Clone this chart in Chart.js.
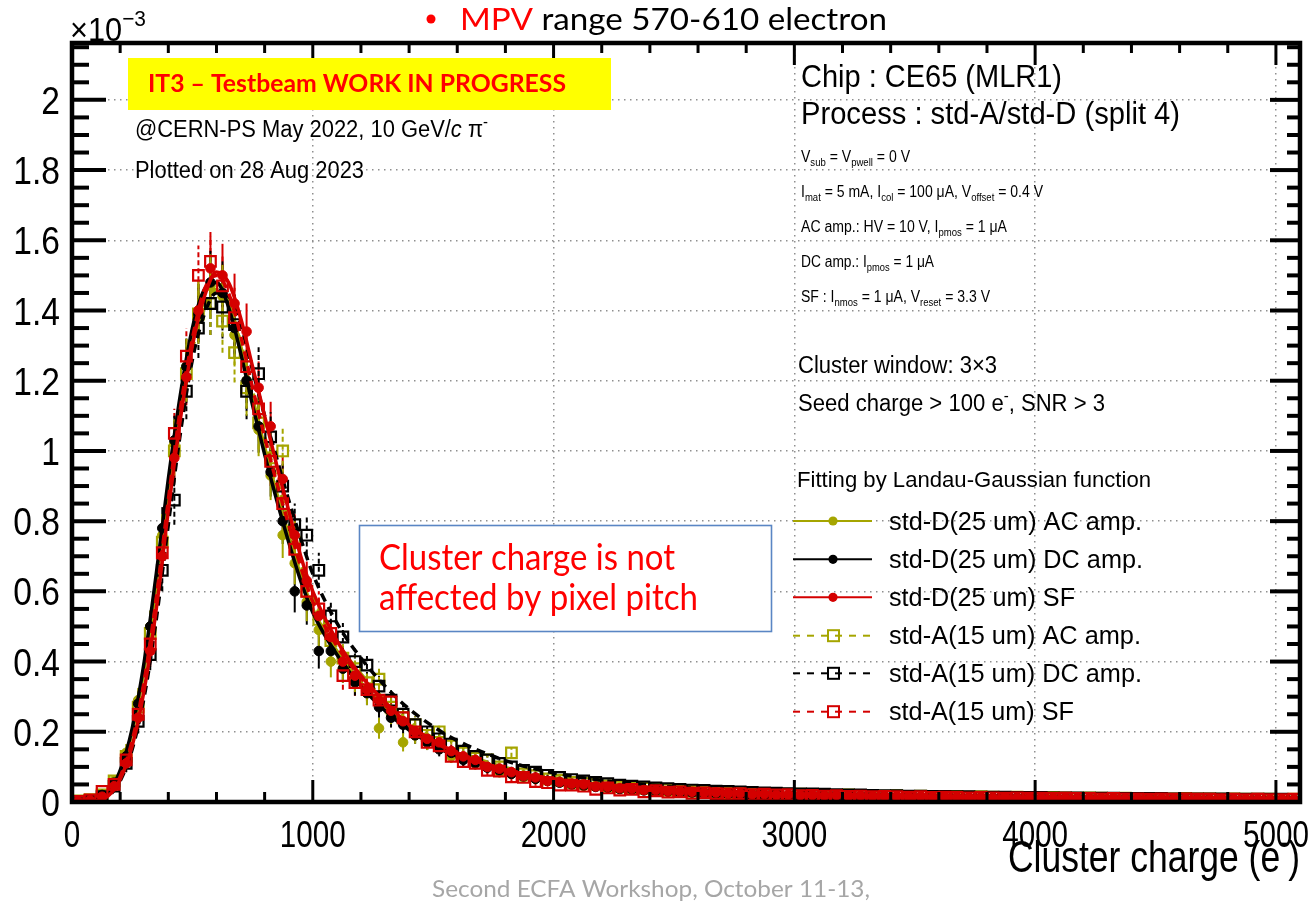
<!DOCTYPE html>
<html><head><meta charset="utf-8">
<script src="https://cdn.jsdelivr.net/npm/chart.js@4.4.1/dist/chart.umd.min.js"></script>
<style>html,body{margin:0;padding:0;background:#fff;overflow:hidden}canvas{display:block}</style>
</head><body>
<canvas id="c" width="1316" height="905"></canvas>
<script>
// ---------------- DATA ----------------
const charge = [25,75,125,175,225,275,325,375,425,475,
 525,575,625,675,725,775,825,875,925,975,
 1025,1075,1125,1175,1225,1275,1325,1375,1425,1475,
 1525,1575,1625,1675,1725,1775,1825,1875,1925,1975,
 2025,2075,2125,2175,2225,2275,2325,2375,2425,2475,
 2525,2575,2625,2675,2725,2775,2825,2875,2925,2975,
 3025,3075,3125,3175,3225,3275,3325,3375,3425,3475,
 3525,3575,3625,3675,3725,3775,3825,3875,3925,3975,
 4025,4075,4125,4175,4225,4275,4325,4375,4425,4475,
 4525,4575,4625,4675,4725,4775,4825,4875,4925,4975,
 5025,5075];
// std-D(25 um) AC amp.
const dAC = [0.003,0.008,0.022,0.06,0.14,0.29,0.50,0.76,1.02,1.24,
 1.40,1.47,1.44,1.33,1.20,1.06,0.93,0.76,0.68,0.57,
 0.49,0.40,0.38,0.35,0.31,0.21,0.25,0.17,0.19,0.17,
 0.16,0.13,0.125,0.11,0.10,0.085,0.08,0.07,0.066,0.06,
 0.058,0.05,0.046,0.047,0.04,0.041,0.035,0.036,0.034,0.029,
 0.031,0.027,0.028,0.024,0.026,0.022,0.024,0.02,0.022,0.019,
 0.021,0.018,0.02,0.017,0.019,0.016,0.018,0.016,0.015,0.017,
 0.014,0.016,0.013,0.015,0.013,0.014,0.012,0.014,0.012,0.013,
 0.011,0.013,0.011,0.012,0.01,0.012,0.01,0.011,0.009,0.011,
 0.009,0.01,0.009,0.01,0.008,0.01,0.008,0.009,0.008,0.009,
 0.008,0.008];
// std-D(25 um) DC amp.
const dDC = [0.002,0.006,0.02,0.055,0.13,0.28,0.50,0.78,1.03,1.24,
 1.39,1.48,1.45,1.35,1.20,1.07,0.94,0.80,0.60,0.56,
 0.43,0.43,0.38,0.34,0.31,0.27,0.24,0.22,0.19,0.17,
 0.15,0.14,0.12,0.11,0.098,0.09,0.08,0.073,0.066,0.06,
 0.055,0.05,0.047,0.043,0.041,0.037,0.036,0.033,0.032,0.03,
 0.029,0.027,0.026,0.025,0.023,0.023,0.021,0.021,0.02,0.019,
 0.019,0.018,0.017,0.018,0.016,0.017,0.015,0.016,0.014,0.015,
 0.014,0.013,0.014,0.012,0.013,0.012,0.012,0.011,0.012,0.011,
 0.011,0.01,0.011,0.01,0.01,0.009,0.01,0.009,0.009,0.009,
 0.008,0.009,0.008,0.008,0.008,0.007,0.008,0.007,0.007,0.007,
 0.007,0.006];
// std-D(25 um) SF
const dSF = [0.002,0.005,0.015,0.045,0.11,0.24,0.43,0.70,0.98,1.21,
 1.40,1.52,1.50,1.42,1.34,1.18,1.07,0.92,0.76,0.63,
 0.53,0.47,0.40,0.36,0.32,0.29,0.26,0.23,0.20,0.18,
 0.17,0.145,0.13,0.12,0.10,0.095,0.085,0.074,0.07,0.06,
 0.057,0.052,0.05,0.044,0.043,0.039,0.038,0.034,0.034,0.031,
 0.03,0.029,0.026,0.027,0.024,0.025,0.022,0.023,0.02,0.021,
 0.019,0.02,0.018,0.019,0.017,0.018,0.016,0.017,0.016,0.015,
 0.016,0.014,0.015,0.014,0.013,0.014,0.012,0.013,0.012,0.012,
 0.012,0.011,0.012,0.01,0.011,0.01,0.011,0.009,0.01,0.009,
 0.01,0.008,0.009,0.009,0.008,0.009,0.008,0.008,0.008,0.007,
 0.008,0.007];
// std-A(15 um) AC amp.
const aAC = [0.003,0.007,0.02,0.06,0.13,0.27,0.48,0.74,1.00,1.22,
 1.39,1.42,1.37,1.28,1.18,1.08,0.98,1.00,0.74,0.60,
 0.52,0.46,0.41,0.38,0.34,0.35,0.27,0.24,0.22,0.19,
 0.20,0.16,0.14,0.125,0.12,0.10,0.14,0.08,0.075,0.066,
 0.062,0.056,0.053,0.05,0.046,0.043,0.04,0.039,0.036,0.035,
 0.032,0.031,0.03,0.028,0.027,0.026,0.025,0.024,0.023,0.022,
 0.022,0.02,0.021,0.019,0.02,0.018,0.019,0.017,0.018,0.016,
 0.017,0.016,0.015,0.016,0.014,0.015,0.014,0.013,0.014,0.013,
 0.012,0.013,0.012,0.011,0.012,0.011,0.01,0.011,0.01,0.01,
 0.01,0.009,0.01,0.009,0.009,0.008,0.009,0.008,0.008,0.008,
 0.007,0.008];
// std-A(15 um) DC amp.
const aDC = [0.001,0.004,0.015,0.045,0.11,0.23,0.42,0.66,0.86,1.17,
 1.35,1.42,1.41,1.36,1.17,1.22,1.04,0.90,0.79,0.76,
 0.66,0.53,0.47,0.40,0.39,0.33,0.29,0.25,0.22,0.20,
 0.18,0.165,0.145,0.13,0.12,0.11,0.10,0.09,0.085,0.076,
 0.07,0.064,0.06,0.056,0.052,0.048,0.045,0.043,0.04,0.038,
 0.036,0.034,0.033,0.031,0.03,0.029,0.027,0.026,0.025,0.024,
 0.023,0.023,0.022,0.021,0.02,0.02,0.019,0.018,0.018,0.017,
 0.017,0.016,0.016,0.015,0.015,0.014,0.014,0.014,0.013,0.013,
 0.013,0.012,0.012,0.012,0.011,0.011,0.011,0.01,0.01,0.01,
 0.01,0.009,0.009,0.009,0.009,0.009,0.008,0.008,0.008,0.008,
 0.008,0.007];
// std-A(15 um) SF
const aSF = [0.002,0.006,0.03,0.05,0.12,0.25,0.45,0.71,1.05,1.27,
 1.50,1.54,1.47,1.38,1.24,1.12,0.97,0.85,0.72,0.60,
 0.55,0.48,0.36,0.34,0.32,0.29,0.285,0.24,0.20,0.17,
 0.16,0.13,0.115,0.11,0.09,0.088,0.072,0.07,0.058,0.055,
 0.048,0.048,0.045,0.036,0.04,0.034,0.036,0.029,0.032,0.028,
 0.029,0.025,0.026,0.024,0.023,0.024,0.021,0.022,0.02,0.021,
 0.018,0.019,0.017,0.018,0.016,0.017,0.015,0.016,0.015,0.014,
 0.015,0.013,0.014,0.013,0.012,0.013,0.012,0.011,0.012,0.011,
 0.011,0.01,0.011,0.01,0.01,0.009,0.01,0.009,0.009,0.008,
 0.009,0.008,0.009,0.008,0.008,0.007,0.008,0.007,0.008,0.007,
 0.007,0.008];
// half-length of the statistical error bars per bin (first 40 bins; smaller beyond)
const binErr = [0,0.003,0.008,0.015,0.025,0.035,0.045,0.06,0.07,0.08,
 0.085,0.09,0.09,0.085,0.08,0.075,0.07,0.065,0.06,0.055,
 0.05,0.045,0.04,0.037,0.034,0.03,0.028,0.026,0.024,0.022,
 0.02,0.019,0.018,0.017,0.016,0.015,0.014,0.013,0.012,0.011];

// Landau-Gaussian fit curves
const fitX = [50,100,150,200,250,300,350,400,450,500,550,600,650,700,750,800,850,900,950,1000,
 1100,1200,1300,1400,1500,1600,1800,2000,2200,2500,2800,3200,3600,4000,4500,5100];
const fitDAC = [0.001,0.006,0.025,0.085,0.2,0.38,0.62,0.9,1.14,1.33,1.45,1.48,1.42,1.3,1.15,1.01,0.88,0.76,0.645,0.55,
 0.43,0.34,0.27,0.21,0.165,0.132,0.088,0.062,0.047,0.033,0.025,0.019,0.015,0.012,0.0095,0.0075];
const fitDDC = [0.001,0.006,0.026,0.09,0.21,0.4,0.65,0.92,1.16,1.35,1.46,1.48,1.41,1.28,1.13,0.99,0.86,0.74,0.63,0.54,
 0.42,0.33,0.26,0.205,0.162,0.13,0.086,0.061,0.046,0.032,0.024,0.018,0.014,0.011,0.009,0.007];
const fitDSF = [0.001,0.004,0.017,0.065,0.16,0.32,0.55,0.83,1.09,1.3,1.44,1.51,1.48,1.38,1.24,1.1,0.96,0.83,0.7,0.6,
 0.46,0.36,0.285,0.22,0.175,0.14,0.092,0.065,0.049,0.034,0.026,0.019,0.015,0.012,0.0095,0.0075];
const fitAAC = [0.001,0.005,0.021,0.078,0.185,0.36,0.6,0.87,1.11,1.29,1.41,1.46,1.42,1.31,1.17,1.04,0.92,0.8,0.68,0.58,
 0.455,0.365,0.29,0.228,0.182,0.146,0.098,0.07,0.053,0.037,0.028,0.021,0.016,0.013,0.01,0.008];
const fitADC = [0.0,0.004,0.016,0.06,0.15,0.3,0.52,0.79,1.05,1.26,1.39,1.45,1.44,1.36,1.23,1.1,0.98,0.86,0.75,0.65,
 0.51,0.41,0.33,0.265,0.215,0.175,0.118,0.083,0.062,0.043,0.032,0.024,0.018,0.014,0.011,0.0085];
const fitASF = [0.001,0.005,0.02,0.072,0.175,0.345,0.58,0.86,1.12,1.32,1.46,1.5,1.45,1.33,1.18,1.04,0.91,0.79,0.67,0.57,
 0.445,0.355,0.28,0.22,0.173,0.138,0.092,0.066,0.05,0.034,0.026,0.019,0.015,0.012,0.0095,0.0075];

const xTicks = [0,1000,2000,3000,4000,5000];
const xTickLabels = ['0','1000','2000','3000','4000','5000'];
const yTicks = [0,0.2,0.4,0.6,0.8,1.0,1.2,1.4,1.6,1.8,2.0];
const yTickLabels = ['0','0.2','0.4','0.6','0.8','1','1.2','1.4','1.6','1.8','2'];
const seriesNames = ['std-D(25 um) AC amp.','std-D(25 um) DC amp.','std-D(25 um) SF',
 'std-A(15 um) AC amp.','std-A(15 um) DC amp.','std-A(15 um) SF'];

// ---------------- STYLE ----------------
const OLIVE = '#a5a500', BLACK = '#000000', RED = '#d40000';
const SANS = "'Liberation Sans',Arial,sans-serif";
const SLIDE = "Lato,'Open Sans',sans-serif";

const pts = (xs, ys) => xs.map((x, i) => ({x, y: ys[i]}));
const pointSet = (label, ys, color, square) => ({
  label, data: pts(charge, ys), showLine: false, isHist: true, dashedErr: square,
  pointStyle: square ? 'rect' : 'circle',
  pointRadius: square ? 7.5 : 4.8,
  pointBackgroundColor: square ? 'rgba(0,0,0,0)' : color,
  pointBorderColor: color, pointBorderWidth: square ? 2.2 : 1
});
const fitSet = (label, ys, color, dashed) => ({
  label, data: pts(fitX, ys), showLine: true, pointRadius: 0,
  borderColor: color, borderWidth: 3.5, borderDash: dashed ? [9, 6] : [],
  cubicInterpolationMode: 'monotone', fill: false
});

// ---------------- TEXT HELPER ----------------
function rich(ctx, x, y, segs, size, family, color, targetW, weight, align) {
  ctx.save();
  const parts = segs.map(s => {
    const o = typeof s === 'string' ? {t: s} : s;
    const m = o.m || 0;
    const sz = (m === 1 || m === 2) ? size * 0.68 : size;
    const font = (m === 3 ? 'italic ' : '') + (weight || 'normal') + ' ' + sz + 'px ' + family;
    ctx.font = font;
    return {t: o.t, m, font, c: o.c || color, w: ctx.measureText(o.t).width};
  });
  const total = parts.reduce((a, p) => a + p.w, 0);
  const sx = targetW ? (targetW < 0 ? -targetW : targetW / total) : 1;
  const realW = total * sx;
  const x0 = align === 'center' ? x - realW / 2 : align === 'right' ? x - realW : x;
  ctx.translate(x0, y); ctx.scale(sx, 1);
  ctx.textBaseline = 'alphabetic'; ctx.textAlign = 'left';
  let cx = 0;
  for (const p of parts) {
    ctx.font = p.font; ctx.fillStyle = p.c;
    const dy = p.m === 1 ? size * 0.28 : p.m === 2 ? -size * 0.45 : 0;
    ctx.fillText(p.t, cx, dy);
    cx += p.w;
  }
  ctx.restore();
}

// ---------------- PLUGINS ----------------
const errPlugin = {
  id: 'errbars',
  beforeDatasetsDraw(chart) {
    const {ctx, scales: {y}} = chart;
    ctx.save();
    chart.data.datasets.forEach((ds, di) => {
      if (!ds.isHist) return;
      const meta = chart.getDatasetMeta(di);
      ctx.strokeStyle = ds.pointBorderColor; ctx.lineWidth = 2;
      ctx.setLineDash(ds.dashedErr ? [5, 3] : []);
      meta.data.forEach((el, i) => {
        const e = i < binErr.length ? binErr[i] : 0.004;
        const v = ds.data[i].y;
        ctx.beginPath();
        ctx.moveTo(el.x, y.getPixelForValue(v - e));
        ctx.lineTo(el.x, y.getPixelForValue(v + e));
        ctx.stroke();
      });
    });
    ctx.restore();
  }
};

const framePlugin = {
  id: 'frame',
  afterDatasetsDraw(chart) {
    const {ctx, chartArea: a, scales: {x, y}} = chart;
    ctx.save();
    ctx.strokeStyle = '#000'; ctx.lineCap = 'butt';
    const ln = (x1, y1, x2, y2) => { ctx.beginPath(); ctx.moveTo(x1, y1); ctx.lineTo(x2, y2); ctx.stroke(); };
    ctx.lineWidth = 3;
    for (let v = 0; v <= x.max + 1e-6; v += 200) {
      const px = x.getPixelForValue(v);
      const L = (v % 1000 === 0) ? 22 : 10;
      ln(px, a.bottom, px, a.bottom - L);
      ln(px, a.top, px, a.top + L);
    }
    ctx.lineWidth = 4;
    for (let k = 0; k * 0.05 <= y.max + 1e-9; k++) {
      const py = y.getPixelForValue(k * 0.05);
      const major = k % 4 === 0;
      ln(a.left, py, a.left + (major ? 34 : 17), py);
      ln(a.right, py, a.right - (major ? 30 : 13), py);
    }
    ctx.lineWidth = 4.5;
    ctx.strokeRect(a.left, a.top, a.right - a.left, a.bottom - a.top);
    ctx.restore();
    // tick labels, placed by the library's scales
    x.ticks.forEach((t, i) => {
      rich(ctx, x.getPixelForValue(t.value), 847, [xTickLabels[i]], 37, SANS, '#000', -0.8, 'normal', 'center');
    });
    y.ticks.forEach((t, i) => {
      rich(ctx, 60, y.getPixelForValue(t.value) + 14, [yTickLabels[i]], 39, SANS, '#000', -0.86, 'normal', 'right');
    });
  }
};

const textPlugin = {
  id: 'texts',
  afterDraw(chart) {
    const ctx = chart.ctx;
    rich(ctx, 70, 41, [{t: '×10'}, {t: '−3', m: 2}], 33, SANS, '#000', 76);
    ctx.save(); ctx.fillStyle = '#ff0000'; ctx.beginPath(); ctx.arc(431, 19, 4.5, 0, Math.PI * 2); ctx.fill(); ctx.restore();
    rich(ctx, 460, 30, [{t: 'MPV', c: '#ff0000'}, {t: ' range 570-610 electron'}], 31, SLIDE, '#000', 427);
    ctx.save(); ctx.fillStyle = '#ffff00'; ctx.fillRect(128, 58, 483, 52); ctx.restore();
    rich(ctx, 148, 92, ['IT3 – Testbeam WORK IN PROGRESS'], 25, SLIDE, '#ff0000', 418, 'bold');
    rich(ctx, 135, 137, ['@CERN-PS May 2022, 10 GeV/', {t: 'c', m: 3}, ' π', {t: '-', m: 2}], 23, SANS, '#000', 353);
    rich(ctx, 135, 178, ['Plotted on 28 Aug 2023'], 23, SANS, '#000', 229);
    rich(ctx, 801, 87, ['Chip : CE65 (MLR1)'], 31, SANS, '#000', 261);
    rich(ctx, 801, 124, ['Process : std-A/std-D (split 4)'], 31, SANS, '#000', 379);
    rich(ctx, 801, 162, ['V', {t: 'sub', m: 1}, ' = V', {t: 'pwell', m: 1}, ' = 0 V'], 16, SANS, '#000', 109);
    rich(ctx, 801, 197, ['I', {t: 'mat', m: 1}, ' = 5 mA, I', {t: 'col', m: 1}, ' = 100 μA, V', {t: 'offset', m: 1}, ' = 0.4 V'], 16, SANS, '#000', 242);
    rich(ctx, 801, 232, ['AC amp.: HV = 10 V, I', {t: 'pmos', m: 1}, ' = 1 μA'], 16, SANS, '#000', 206);
    rich(ctx, 801, 267, ['DC amp.: I', {t: 'pmos', m: 1}, ' = 1 μA'], 16, SANS, '#000', 133);
    rich(ctx, 801, 302, ['SF : I', {t: 'nmos', m: 1}, ' = 1 μA, V', {t: 'reset', m: 1}, ' = 3.3 V'], 16, SANS, '#000', 189);
    rich(ctx, 798, 373, ['Cluster window: 3×3'], 23, SANS, '#000', 199);
    rich(ctx, 798, 411, ['Seed charge > 100 e', {t: '-', m: 2}, ', SNR > 3'], 23, SANS, '#000', 307);
    rich(ctx, 797, 487, ['Fitting by Landau-Gaussian function'], 22, SANS, '#000', 354);
    const legColors = [OLIVE, BLACK, RED, OLIVE, BLACK, RED];
    const legY = [521, 559.3, 597.3, 635.7, 673.3, 711.7];
    const legW = [253, 254, 186, 252, 253, 185];
    for (let i = 0; i < 6; i++) {
      const cy = legY[i], col = legColors[i], sq = i >= 3;
      ctx.save();
      ctx.strokeStyle = col; ctx.lineWidth = 2;
      ctx.setLineDash(sq ? [7, 7] : []);
      ctx.beginPath(); ctx.moveTo(793, cy); ctx.lineTo(872, cy); ctx.stroke();
      ctx.setLineDash([]);
      if (sq) { ctx.lineWidth = 2; ctx.strokeRect(828, cy - 5.5, 11, 11); }
      else { ctx.fillStyle = col; ctx.beginPath(); ctx.arc(833, cy, 4.6, 0, Math.PI * 2); ctx.fill(); }
      ctx.restore();
      rich(ctx, 889, cy + 8.5, [seriesNames[i]], 25, SANS, '#000', legW[i]);
    }
    ctx.save(); ctx.fillStyle = '#fff'; ctx.fillRect(359, 525, 413, 107);
    ctx.strokeStyle = '#5a86c4'; ctx.lineWidth = 1.6; ctx.strokeRect(359.5, 525.5, 412, 106); ctx.restore();
    rich(ctx, 379, 570, ['Cluster charge is not'], 36, SLIDE, '#ff0000', 296);
    rich(ctx, 379, 610, ['affected by pixel pitch'], 36, SLIDE, '#ff0000', 319);
    rich(ctx, 432, 897, ['Second ECFA Workshop, October 11-13,'], 24, SLIDE, '#a6a6a6', 438);
    rich(ctx, 1008, 872, ['Cluster charge (e', {t: '-', m: 2}, ')'], 44, SANS, '#000', 292);
  }
};

// ---------------- CHART ----------------
new Chart(document.getElementById('c'), {
  type: 'scatter',
  data: {
    datasets: [
      fitSet('fit ' + seriesNames[2], fitDSF, RED, false),
      pointSet(seriesNames[2], dSF, RED, false),
      fitSet('fit ' + seriesNames[5], fitASF, RED, true),
      pointSet(seriesNames[5], aSF, RED, true),
      fitSet('fit ' + seriesNames[4], fitADC, BLACK, true),
      fitSet('fit ' + seriesNames[1], fitDDC, BLACK, false),
      pointSet(seriesNames[1], dDC, BLACK, false),
      pointSet(seriesNames[4], aDC, BLACK, true),
      fitSet('fit ' + seriesNames[0], fitDAC, OLIVE, false),
      fitSet('fit ' + seriesNames[3], fitAAC, OLIVE, true),
      pointSet(seriesNames[0], dAC, OLIVE, false),
      pointSet(seriesNames[3], aAC, OLIVE, true)
    ]
  },
  options: {
    responsive: false, animation: false, devicePixelRatio: 1, events: [],
    layout: {padding: {top: 43, right: 16, left: 0, bottom: 0}},
    plugins: {legend: {display: false}, tooltip: {enabled: false}, title: {display: false}},
    scales: {
      x: {
        type: 'linear', min: 0, max: 5100,
        afterBuildTicks: s => { s.ticks = xTicks.map(v => ({value: v})); },
        afterFit: s => { s.height = 103; s.paddingLeft = 0; s.paddingRight = 0; },
        ticks: {display: false},
        grid: {color: '#8f8f8f', lineWidth: 1.5, drawTicks: false},
        border: {display: false, dash: [1.5, 4.5]}
      },
      y: {
        type: 'linear', min: 0, max: 2.162,
        afterBuildTicks: s => { s.ticks = yTicks.map(v => ({value: v})); },
        afterFit: s => { s.width = 72; },
        ticks: {display: false},
        grid: {color: '#8f8f8f', lineWidth: 1.5, drawTicks: false},
        border: {display: false, dash: [1.5, 4.5]}
      }
    }
  },
  plugins: [errPlugin, framePlugin, textPlugin]
});
</script>
</body></html>
